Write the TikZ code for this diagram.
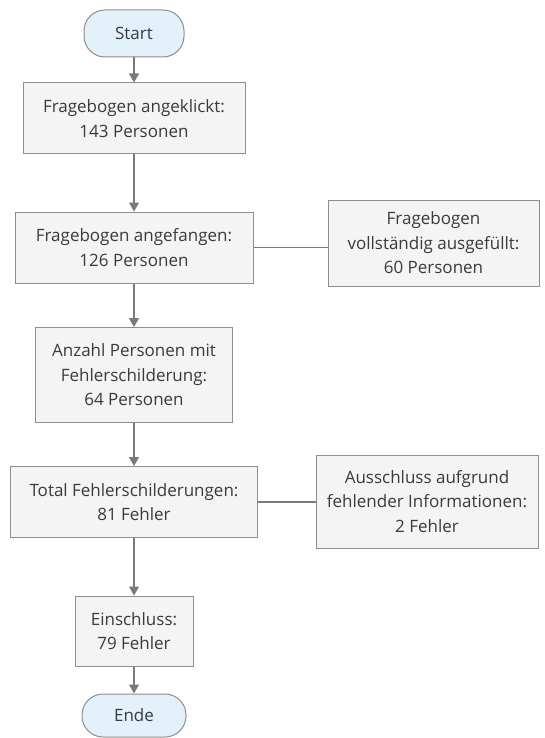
\documentclass[tikz,border=0pt]{standalone}
\usepackage{fontspec}
\setmainfont{Open Sans}
\usetikzlibrary{arrows.meta}
\definecolor{boxfill}{HTML}{F4F4F4}
\definecolor{boxdraw}{HTML}{8E8E8E}
\definecolor{termfill}{HTML}{E3F1FB}
\definecolor{linec}{HTML}{7A7A7A}
\definecolor{txt}{HTML}{3A3A3A}
\tikzset{
  procbox/.style={draw=boxdraw, fill=boxfill, line width=1pt, rectangle, align=center, text=txt, font=\fontsize{17}{24.5}\selectfont, inner sep=0pt},
  termbox/.style={draw=boxdraw, fill=termfill, line width=1pt, rectangle, rounded corners=21pt, align=center, text=txt, font=\fontsize{17}{24.5}\selectfont, inner sep=0pt},
  conn/.style={draw=linec, line width=1.3pt, -{Triangle[length=9pt,width=10pt]}},
  plain/.style={draw=linec, line width=1.3pt}
}
\begin{document}
\begin{tikzpicture}[x=1pt,y=-1pt]
\useasboundingbox (0,0) rectangle (544,738);
\node[termbox, minimum width=100pt, minimum height=47pt] (start) at (134,33.5) {Start};
\node[procbox, minimum width=222pt, minimum height=71pt] (b1) at (134,118.5) {Fragebogen angeklickt:\\143 Personen};
\node[procbox, minimum width=238pt, minimum height=71pt] (b2) at (134,247.5) {Fragebogen angefangen:\\126 Personen};
\node[procbox, minimum width=211pt, minimum height=86pt] (r1) at (433.5,243) {Fragebogen\\vollständig ausgefüllt:\\60 Personen};
\node[procbox, minimum width=197pt, minimum height=95pt] (b3) at (134,375) {Anzahl Personen mit\\Fehlerschilderung:\\64 Personen};
\node[procbox, minimum width=247pt, minimum height=71pt] (b4) at (134,502) {Total Fehlerschilderungen:\\81 Fehler};
\node[procbox, minimum width=222pt, minimum height=93pt] (r2) at (427,501.5) {Ausschluss aufgrund\\fehlender Informationen:\\2 Fehler};
\node[procbox, minimum width=118pt, minimum height=70pt] (b5) at (134,631) {Einschluss:\\79 Fehler};
\node[termbox, minimum width=104pt, minimum height=43pt] (ende) at (134,715.5) {Ende};
\draw[conn] (start) -- (b1);
\draw[conn] (b1) -- (b2);
\draw[conn] (b2) -- (b3);
\draw[conn] (b3) -- (b4);
\draw[conn] (b4) -- (b5);
\draw[conn] (b5) -- (ende);
\draw[plain] (b2.east) -- (b2.east -| r1.west);
\draw[plain] (b4.east) -- (b4.east -| r2.west);
\end{tikzpicture}
\end{document}
